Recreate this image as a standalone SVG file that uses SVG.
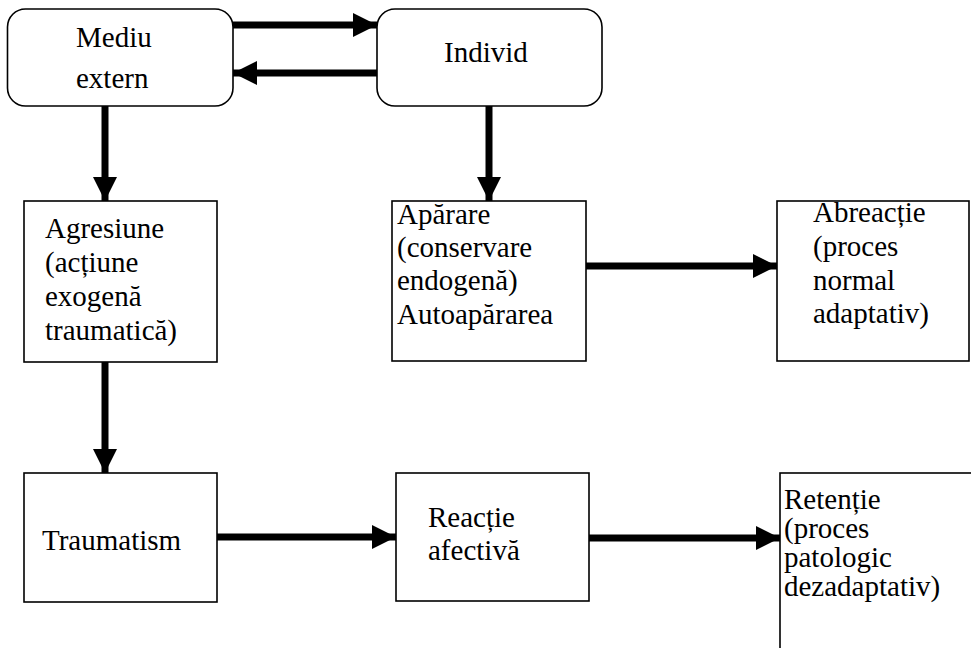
<svg xmlns="http://www.w3.org/2000/svg" width="971" height="648" viewBox="0 0 971 648">
<style>
.box{fill:#fff;stroke:#000;stroke-width:1.6}
.t{font-family:'Liberation Serif','Times New Roman',serif;font-size:29px;fill:#000}
.c{fill:none;stroke:#000;stroke-width:7}
</style>
<defs>
<marker id="ah" markerUnits="userSpaceOnUse" markerWidth="24" markerHeight="24" refX="24" refY="12" orient="auto" viewBox="0 0 24 24">
<path d="M0,0 L24,12 L0,24 z" fill="#000"/>
</marker>
</defs>
<rect width="971" height="648" fill="#fff"/>
<g id="connectors">
<line class="c" x1="233" y1="25" x2="377" y2="25" marker-end="url(#ah)"/>
<line class="c" x1="377" y1="73" x2="233" y2="73" marker-end="url(#ah)"/>
<line class="c" x1="105" y1="106" x2="105" y2="201" marker-end="url(#ah)"/>
<line class="c" x1="489" y1="106" x2="489" y2="201" marker-end="url(#ah)"/>
<line class="c" x1="586" y1="266" x2="777" y2="266" marker-end="url(#ah)"/>
<line class="c" x1="105" y1="362" x2="105" y2="473" marker-end="url(#ah)"/>
<line class="c" x1="217" y1="537" x2="396" y2="537" marker-end="url(#ah)"/>
<line class="c" x1="589" y1="538" x2="780" y2="538" marker-end="url(#ah)"/>
</g>
<g id="mediu">
<rect class="box" x="7.5" y="9" width="225.5" height="97" rx="18"/>
<text class="t" x="76" y="47">Mediu</text>
<text class="t" x="76" y="88">extern</text>
</g>
<g id="individ">
<rect class="box" x="377" y="9" width="225" height="97" rx="18"/>
<text class="t" x="444" y="62">Individ</text>
</g>
<g id="agresiune">
<rect class="box" x="24" y="201" width="193" height="161"/>
<text class="t" x="45" y="238">Agresiune</text>
<text class="t" x="45" y="272">(acțiune</text>
<text class="t" x="45" y="306">exogenă</text>
<text class="t" x="45" y="340">traumatică)</text>
</g>
<g id="aparare">
<rect class="box" x="392" y="201" width="194" height="160"/>
<text class="t" x="397" y="224">Apărare</text>
<text class="t" x="397" y="257">(conservare</text>
<text class="t" x="397" y="290">endogenă)</text>
<text class="t" x="397" y="324">Autoapărarea</text>
</g>
<g id="abreactie">
<rect class="box" x="777" y="201" width="192" height="160"/>
<text class="t" x="813" y="222">Abreacție</text>
<text class="t" x="813" y="256">(proces</text>
<text class="t" x="813" y="290">normal</text>
<text class="t" x="813" y="323">adaptativ)</text>
</g>
<g id="traumatism">
<rect class="box" x="24" y="473" width="193" height="129"/>
<text class="t" x="42" y="550">Traumatism</text>
</g>
<g id="reactie">
<rect class="box" x="396" y="473" width="193" height="128"/>
<text class="t" x="428" y="527">Reacție</text>
<text class="t" x="428" y="560">afectivă</text>
</g>
<g id="retentie">
<rect class="box" x="780" y="473" width="220" height="200"/>
<text class="t" x="784" y="509">Retenție</text>
<text class="t" x="784" y="538">(proces</text>
<text class="t" x="784" y="567">patologic</text>
<text class="t" x="784" y="596">dezadaptativ)</text>
</g>
</svg>
